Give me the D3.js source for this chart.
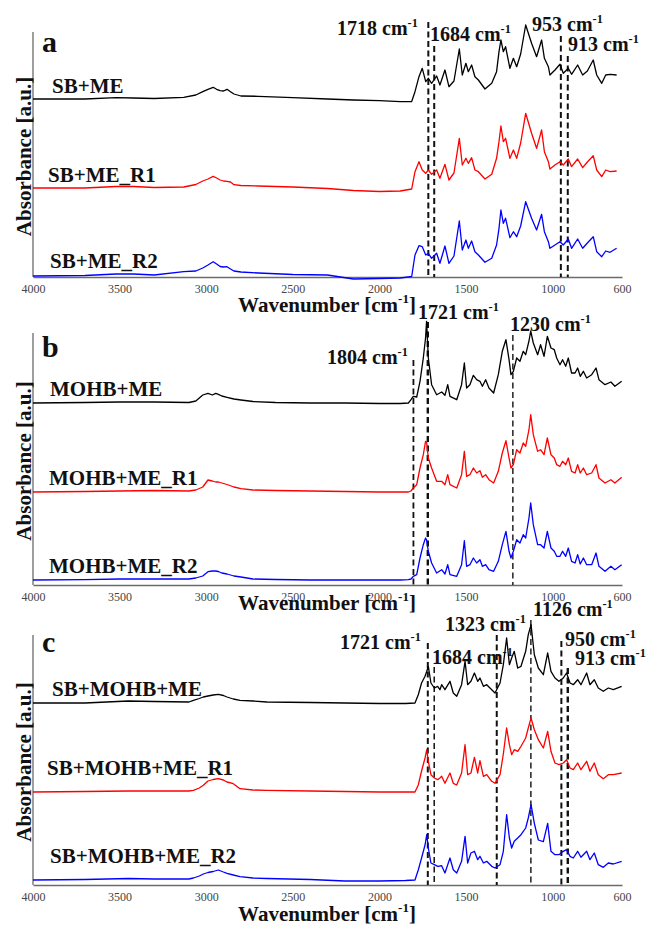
<!DOCTYPE html>
<html>
<head>
<meta charset="utf-8">
<script src="https://cdn.jsdelivr.net/npm/d3@7"></script>
<style>
  body { margin: 0; background: #fff; }
  svg text { font-family: "Liberation Serif", "Times New Roman", serif; }
</style>
</head>
<body>
<div id="chart"></div>
<script>
// FTIR spectra, stacked, three panels (a, b, c)
var xTicks = [4000, 3500, 3000, 2500, 2000, 1500, 1000, 600];

// ---- panel a ----
var namesA = ["SB+ME", "SB+ME_R1", "SB+ME_R2"];
var peaksA = [1718, 1684, 953, 913];
var wnA = [4000, 3700, 3520, 3420, 3300, 3130, 3060, 3020, 2990, 2960, 2940, 2920, 2900, 2880, 2860, 2840, 2800, 2700, 2500, 2300,
  2150, 2000, 1880, 1814, 1795, 1772, 1753, 1733, 1718, 1699, 1670, 1651, 1622, 1599, 1570, 1539, 1522, 1501, 1487, 1468,
  1449, 1429, 1391, 1352, 1324, 1310, 1299, 1285, 1272, 1247, 1227, 1208, 1185, 1156, 1122, 1093, 1064, 1048, 1025, 1016,
  987, 958, 939, 910, 891, 856, 827, 800, 766, 746, 717, 694, 669, 631];
var sbME = [0, 0, 0.013, 0.01, 0.005, 0.017, 0.04, 0.073, 0.097, 0.117, 0.097, 0.083, 0.08, 0.097, 0.073, 0.05, 0.03, 0.027, 0.013, 0,
  -0.01, -0.017, -0.027, -0.025, 0.073, 0.223, 0.307, 0.173, 0.207, 0.157, 0.23, 0.14, 0.29, 0.123, 0.18, 0.50, 0.24, 0.357, 0.273, 0.34,
  0.223, 0.19, 0.10, 0.157, 0.273, 0.473, 0.59, 0.473, 0.523, 0.307, 0.407, 0.323, 0.45, 0.74, 0.557, 0.423, 0.59, 0.407, 0.323, 0.24,
  0.29, 0.347, 0.257, 0.307, 0.247, 0.34, 0.24, 0.28, 0.39, 0.24, 0.157, 0.24, 0.247, 0.24];
var sbME_R1 = [0, 0, 0.015, 0.015, 0.005, 0.01, 0.035, 0.07, 0.09, 0.117, 0.10, 0.08, 0.07, 0.067, 0.06, 0.033, 0.025, 0.02, 0.01, -0.005,
  -0.025, -0.035, -0.03, -0.01, 0.163, 0.263, 0.18, 0.147, 0.18, 0.137, 0.18, 0.097, 0.237, 0.08, 0.15, 0.497, 0.23, 0.297, 0.247, 0.303,
  0.18, 0.163, 0.09, 0.137, 0.297, 0.463, 0.62, 0.463, 0.497, 0.297, 0.38, 0.297, 0.45, 0.747, 0.547, 0.397, 0.58, 0.363, 0.263, 0.19,
  0.23, 0.263, 0.23, 0.29, 0.213, 0.29, 0.203, 0.26, 0.323, 0.18, 0.113, 0.18, 0.163, 0.17];
var sbME_R2 = [0, 0.005, 0.02, 0.02, 0.01, 0.043, 0.05, 0.08, 0.11, 0.143, 0.12, 0.095, 0.09, 0.093, 0.07, 0.05, 0.04, 0.03, 0.015, 0.01,
  -0.03, -0.025, -0.02, -0.005, 0.21, 0.303, 0.293, 0.21, 0.227, 0.177, 0.227, 0.127, 0.30, 0.127, 0.2, 0.55, 0.26, 0.36, 0.277, 0.35,
  0.243, 0.21, 0.137, 0.177, 0.31, 0.477, 0.66, 0.527, 0.577, 0.383, 0.443, 0.393, 0.5, 0.743, 0.577, 0.46, 0.617, 0.443, 0.343, 0.277,
  0.31, 0.343, 0.31, 0.37, 0.277, 0.37, 0.277, 0.33, 0.393, 0.243, 0.193, 0.25, 0.237, 0.277];

// ---- panel b ----
var namesB = ["MOHB+ME", "MOHB+ME_R1", "MOHB+ME_R2"];
var peaksB = [1804, 1721, 1230];
var wnB = [4000, 3700, 3500, 3300, 3100, 3060, 3020, 2990, 2965, 2945, 2930, 2910, 2880, 2840, 2800, 2730, 2600, 2400, 2200, 2000,
  1880, 1833, 1818, 1805, 1785, 1766, 1747, 1734, 1728, 1718, 1699, 1670, 1641, 1622, 1606, 1593, 1554, 1526, 1510, 1497,
  1478, 1458, 1439, 1420, 1406, 1387, 1368, 1341, 1314, 1291, 1270, 1252, 1241, 1227, 1208, 1189, 1170, 1156, 1137, 1127,
  1112, 1087, 1070, 1050, 1031, 1010, 991, 977, 958, 943, 925, 910, 891, 871, 856, 841, 823, 804, 775, 750,
  733, 698, 664, 641, 602];
var mohbME = [0, 0.005, 0.01, 0.01, 0.005, 0.02, 0.08, 0.097, 0.08, 0.097, 0.087, 0.07, 0.057, 0.04, 0.03, 0.015, 0.005, 0, 0, -0.005,
  -0.005, 0, 0.033, 0.067, 0.06, 0.217, 0.45, 0.65, 0.817, 0.45, 0.183, 0.083, 0.11, 0.077, 0.183, 0.067, 0.033, 0.183, 0.40, 0.15,
  0.183, 0.277, 0.233, 0.217, 0.167, 0.233, 0.15, 0.10, 0.283, 0.517, 0.633, 0.433, 0.283, 0.317, 0.45, 0.417, 0.517, 0.483, 0.62, 0.72,
  0.60, 0.483, 0.583, 0.467, 0.667, 0.55, 0.533, 0.45, 0.383, 0.433, 0.367, 0.45, 0.30, 0.30, 0.35, 0.267, 0.317, 0.25, 0.283, 0.35,
  0.233, 0.183, 0.21, 0.167, 0.217];
var mohbME_R1 = [0, 0.005, 0.01, 0.015, 0.01, 0.02, 0.05, 0.12, 0.11, 0.10, 0.10, 0.09, 0.075, 0.05, 0.033, 0.02, 0.015, 0.01, 0.005, 0,
  0, 0, 0.01, 0.04, 0.073, 0.24, 0.373, 0.507, 0.50, 0.34, 0.24, 0.107, 0.107, 0.073, 0.173, 0.073, 0.04, 0.173, 0.407, 0.157,
  0.173, 0.24, 0.19, 0.213, 0.147, 0.173, 0.123, 0.09, 0.207, 0.39, 0.513, 0.34, 0.24, 0.273, 0.423, 0.39, 0.49, 0.457, 0.623, 0.773,
  0.573, 0.407, 0.423, 0.373, 0.54, 0.373, 0.34, 0.273, 0.257, 0.307, 0.273, 0.34, 0.207, 0.19, 0.273, 0.19, 0.24, 0.173, 0.19, 0.273,
  0.14, 0.09, 0.123, 0.09, 0.147];
var mohbME_R2 = [0, 0.003, 0.01, 0.01, 0.01, 0.02, 0.04, 0.083, 0.09, 0.09, 0.085, 0.07, 0.06, 0.04, 0.03, 0.01, 0.005, 0, 0, 0,
  0, 0.003, 0.01, 0.037, 0.053, 0.22, 0.353, 0.42, 0.40, 0.287, 0.17, 0.07, 0.103, 0.06, 0.153, 0.053, 0.037, 0.153, 0.393, 0.137,
  0.153, 0.22, 0.17, 0.203, 0.137, 0.153, 0.103, 0.087, 0.187, 0.353, 0.487, 0.287, 0.22, 0.287, 0.403, 0.37, 0.453, 0.42, 0.62, 0.77,
  0.553, 0.353, 0.353, 0.32, 0.487, 0.32, 0.287, 0.237, 0.237, 0.287, 0.237, 0.32, 0.187, 0.17, 0.253, 0.16, 0.22, 0.153, 0.153, 0.27,
  0.137, 0.087, 0.137, 0.103, 0.153];

// ---- panel c ----
var namesC = ["SB+MOHB+ME", "SB+MOHB+ME_R1", "SB+MOHB+ME_R2"];
var peaksC = [1721, 1684, 1323, 1126, 950, 913];
var wnC = [4000, 3700, 3450, 3300, 3100, 3074, 3040, 3017, 2990, 2960, 2930, 2901, 2880, 2844, 2805, 2730, 2650, 2400, 2200, 2000,
  1850, 1795, 1776, 1757, 1737, 1727, 1718, 1703, 1683, 1664, 1651, 1641, 1622, 1593, 1574, 1554, 1526, 1506, 1491, 1472,
  1452, 1433, 1420, 1400, 1381, 1352, 1333, 1304, 1285, 1266, 1250, 1237, 1222, 1202, 1183, 1156, 1141, 1125, 1106, 1083,
  1054, 1029, 1010, 987, 964, 939, 920, 900, 881, 856, 837, 804, 785, 760, 737, 708, 679, 650, 602];
var sbMohbME = [0, 0, 0.02, 0.015, 0.01, 0.027, 0.045, 0.06, 0.07, 0.08, 0.087, 0.075, 0.06, 0.04, 0.027, 0.02, 0.01, 0.005, 0, -0.005,
  -0.005, 0, 0.083, 0.20, 0.267, 0.317, 0.367, 0.20, 0.15, 0.167, 0.133, 0.183, 0.133, 0.217, 0.10, 0.067, 0.183, 0.417, 0.183, 0.217,
  0.30, 0.217, 0.25, 0.167, 0.183, 0.133, 0.10, 0.20, 0.383, 0.65, 0.383, 0.45, 0.517, 0.35, 0.367, 0.517, 0.683, 0.783, 0.483, 0.35,
  0.283, 0.50, 0.317, 0.25, 0.217, 0.25, 0.30, 0.20, 0.183, 0.233, 0.183, 0.30, 0.183, 0.233, 0.15, 0.117, 0.15, 0.133, 0.167];
var sbMohbME_R1 = [0, 0.005, 0.01, 0.01, 0.01, 0.017, 0.04, 0.067, 0.11, 0.125, 0.133, 0.12, 0.10, 0.083, 0.033, 0.02, 0.017, 0.01, 0.005, 0,
  0, 0, 0.07, 0.21, 0.34, 0.423, 0.307, 0.173, 0.14, 0.123, 0.14, 0.157, 0.087, 0.19, 0.087, 0.07, 0.19, 0.473, 0.173, 0.19,
  0.347, 0.19, 0.313, 0.157, 0.173, 0.107, 0.087, 0.173, 0.38, 0.64, 0.473, 0.373, 0.423, 0.407, 0.457, 0.54, 0.64, 0.74, 0.623, 0.523,
  0.44, 0.607, 0.407, 0.29, 0.273, 0.29, 0.323, 0.24, 0.223, 0.29, 0.223, 0.307, 0.207, 0.29, 0.173, 0.133, 0.173, 0.173, 0.19];
var sbMohbME_R2 = [0, 0.005, 0.015, 0.01, 0.01, 0.02, 0.04, 0.06, 0.075, 0.085, 0.10, 0.08, 0.067, 0.05, 0.033, 0.02, 0.015, 0.005, -0.01, -0.01,
  -0.005, 0, 0.10, 0.22, 0.35, 0.453, 0.32, 0.17, 0.153, 0.137, 0.14, 0.143, 0.07, 0.22, 0.103, 0.07, 0.187, 0.437, 0.17, 0.27,
  0.287, 0.203, 0.237, 0.17, 0.187, 0.137, 0.12, 0.153, 0.287, 0.653, 0.42, 0.32, 0.387, 0.42, 0.453, 0.52, 0.62, 0.753, 0.567, 0.40,
  0.383, 0.567, 0.287, 0.253, 0.253, 0.287, 0.303, 0.237, 0.22, 0.287, 0.227, 0.287, 0.203, 0.27, 0.153, 0.127, 0.17, 0.16, 0.187];

var colors = ["#000000", "#ff0000", "#0000ff"];

// layout of each panel (pixels)
var panels = [
  { letter: "a", top: 32, bottom: 277, letterY: 52, xLabelY: 312,
    wn: wnA, series: [sbME, sbME_R1, sbME_R2], names: namesA, offsets: [1.78, 0.89, 0.01],
    nameAt: [[52, 93], [48, 182], [50, 268]],
    peaks: peaksA, peakText: [[337, 35], [430, 41], [532, 31], [568, 51]],
    peakTop: [22, 46, 36, 56], peakWidth: [2, 2, 2, 2] },
  { letter: "b", top: 333, bottom: 585, letterY: 357, xLabelY: 610,
    wn: wnB, series: [mohbME, mohbME_R1, mohbME_R2], names: namesB, offsets: [1.82, 0.93, 0.05],
    nameAt: [[50, 396], [49, 485], [49, 573]],
    peaks: peaksB, peakText: [[327, 364], [418, 319], [510, 331]],
    peakTop: [360, 322, 335], peakWidth: [1.8, 2.4, 1.4] },
  { letter: "c", top: 635, bottom: 885, letterY: 652, xLabelY: 921,
    wn: wnC, series: [sbMohbME, sbMohbME_R1, sbMohbME_R2], names: namesC, offsets: [1.82, 0.93, 0.05],
    nameAt: [[52, 696], [47, 775], [50, 863]],
    peaks: peaksC, peakText: [[340, 649], [432, 664], [445, 631], [533, 616], [565, 646], [575, 665]],
    peakTop: [643, 667, 635, 620, 641, 668], peakWidth: [2, 1.5, 2, 1.4, 2, 2.4] }
];

var svg = d3.select("#chart").append("svg")
  .attr("width", 652)
  .attr("height", 926);

var x = d3.scaleLinear().domain([4000, 600]).range([33, 622]);

// number + " cm" with superscript -1
function cmLabel(sel, lead, size, tail) {
  sel.append("tspan").text(lead + "cm");
  sel.append("tspan").attr("dy", -size * 0.42).attr("font-size", size * 0.62).text("-1");
  if (tail) sel.append("tspan").attr("dy", size * 0.42).text(tail);
}

panels.forEach(function (p) {
  // 100 px per absorbance unit
  var y = d3.scaleLinear().domain([0, 1]).range([p.bottom, p.bottom - 100]);
  var g = svg.append("g");

  // x axis
  var ax = g.append("g")
    .attr("transform", "translate(0," + p.bottom + ")")
    .call(d3.axisBottom(x).tickValues(xTicks).tickSize(0).tickPadding(7).tickFormat(d3.format("d")));
  ax.select(".domain").attr("stroke", "#6b6b6b").attr("stroke-width", 1.3);
  ax.selectAll("text")
    .attr("font-family", "Liberation Serif, Times New Roman, serif")
    .attr("font-size", 12)
    .attr("fill", "#454545");

  // y axis line (no ticks)
  g.append("line")
    .attr("x1", x(4000)).attr("x2", x(4000))
    .attr("y1", p.top).attr("y2", p.bottom)
    .attr("stroke", "#6b6b6b").attr("stroke-width", 1.3);

  // dashed marker lines
  p.peaks.forEach(function (w, i) {
    g.append("line")
      .attr("x1", x(w)).attr("x2", x(w))
      .attr("y1", p.peakTop[i]).attr("y2", p.bottom)
      .attr("stroke", "#111")
      .attr("stroke-width", p.peakWidth[i])
      .attr("stroke-dasharray", "6,3.5");
  });

  // spectra
  p.series.forEach(function (s, i) {
    var line = d3.line()
      .x(function (d, j) { return x(p.wn[j]); })
      .y(function (d) { return y(d + p.offsets[i]); });
    g.append("path")
      .datum(s)
      .attr("d", line)
      .attr("fill", "none")
      .attr("stroke", colors[i])
      .attr("stroke-width", 1.3)
      .attr("stroke-linejoin", "round");
  });

  // sample names
  p.names.forEach(function (n, i) {
    g.append("text")
      .attr("x", p.nameAt[i][0]).attr("y", p.nameAt[i][1])
      .attr("font-size", 21).attr("font-weight", "bold").attr("fill", "#111")
      .text(n);
  });

  // peak labels
  p.peaks.forEach(function (w, i) {
    var t = g.append("text")
      .attr("x", p.peakText[i][0]).attr("y", p.peakText[i][1])
      .attr("font-size", 20).attr("font-weight", "bold").attr("fill", "#111");
    cmLabel(t, w + " ", 20);
  });

  // panel letter
  g.append("text")
    .attr("x", 42).attr("y", p.letterY)
    .attr("font-size", 30).attr("font-weight", "bold").attr("fill", "#111")
    .text(p.letter);

  // axis titles
  var xt = g.append("text")
    .attr("x", 327).attr("y", p.xLabelY)
    .attr("text-anchor", "middle")
    .attr("font-size", 21).attr("font-weight", "bold").attr("fill", "#111");
  cmLabel(xt, "Wavenumber [", 21, "]");

  g.append("text")
    .attr("transform", "translate(31," + ((p.top + p.bottom) / 2 + 2) + ") rotate(-90)")
    .attr("text-anchor", "middle")
    .attr("font-size", 21).attr("font-weight", "bold").attr("fill", "#111")
    .text("Absorbance [a.u.]");
});
</script>
</body>
</html>
